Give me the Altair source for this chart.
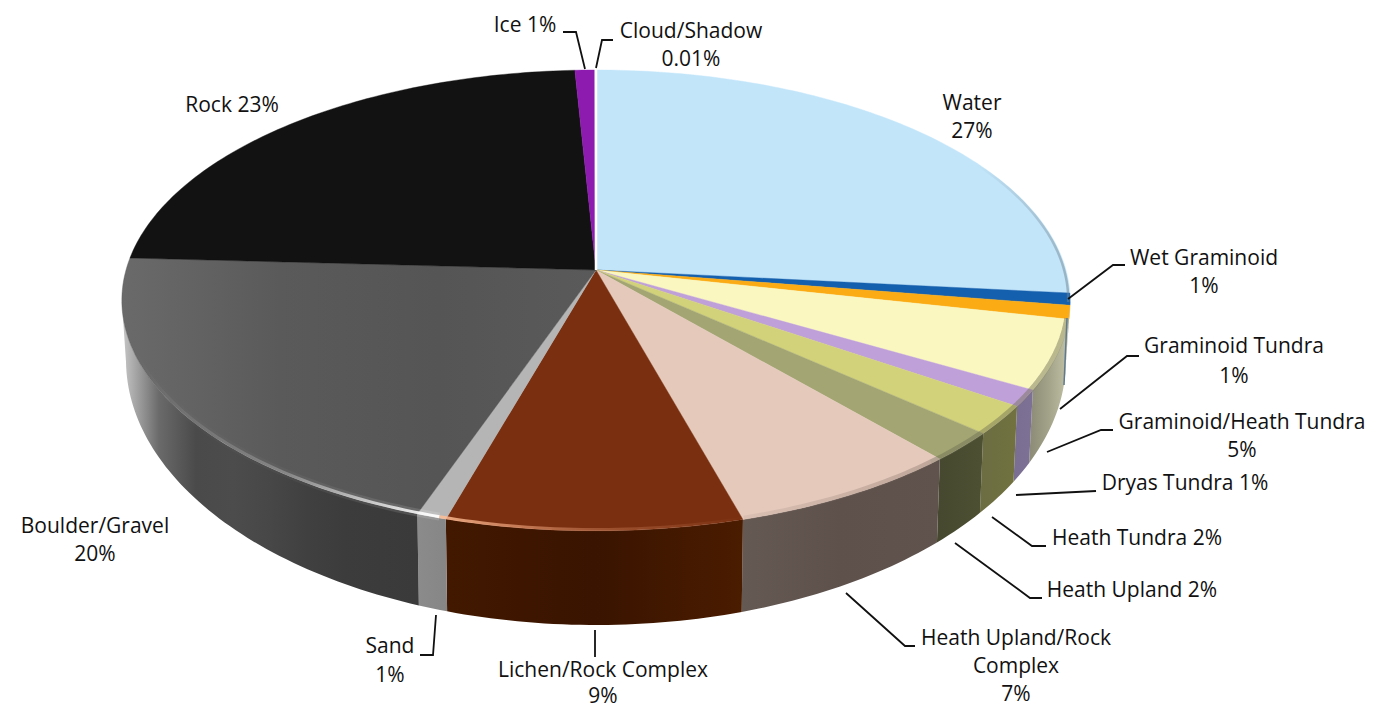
import math
import altair as alt

# ---- chart values ----
categories = ["Water", "Wet Graminoid", "Graminoid Tundra", "Graminoid/Heath Tundra",
              "Dryas Tundra", "Heath Tundra", "Heath Upland", "Heath Upland/Rock Complex",
              "Lichen/Rock Complex", "Sand", "Boulder/Gravel", "Rock", "Ice", "Cloud/Shadow"]
values = [26.6, 0.84, 0.95, 4.86, 1.17, 2.03, 2.1, 7.05, 8.9, 0.9, 20.45, 23.34, 0.8, 0.01]
top_colors = ["#c2e5fa", "#1560ae", "#fbab14", "#faf7c0", "#c0a0d8", "#d2d27a", "#a3a673",
              "#e5cabc", "#7a3010", "#b5b5b5", "#585858", "#121212", "#8e1bb0", "#ffffff"]
wall_stops = [
    ["#8fa0a8", "#8fa0a8"], ["#4a6a88", "#4a6a88"], ["#b8a878", "#b8a878"],
    ["#8b8b76", "#a3a38a", "#c2c2a6"], ["#7a6e92", "#7d7196"], ["#6c6d42", "#71723f"],
    ["#46482f", "#4d5032"], ["#655953", "#5e514c", "#60534d"],
    ["#421800", "#3a1400", "#4a1c00"], ["#8b8b8b", "#868686"],
    ["#c8c8c8", "#6a6a6a", "#4a4a4a", "#4c4c4c", "#474747", "#404040", "#3c3c3c", "#3b3b3b", "#3a3a3a"],
]
label_text = ["Ice 1%", "Cloud/Shadow", "0.01%", "Water", "27%", "Rock 23%", "Wet Graminoid", "1%",
              "Graminoid Tundra", "1%", "Graminoid/Heath Tundra", "5%", "Dryas Tundra 1%",
              "Heath Tundra 2%", "Heath Upland 2%", "Heath Upland/Rock", "Complex", "7%",
              "Lichen/Rock Complex", "9%", "Sand", "1%", "Boulder/Gravel", "20%"]
label_x = [525, 691, 691, 972, 972, 232, 1204, 1204, 1234, 1234, 1242, 1242, 1185,
           1137, 1132, 1016, 1016, 1016, 603, 603, 390, 390, 95, 95]
label_y = [26, 32, 60, 104, 132, 106, 259, 287, 347, 377, 423, 451, 484,
           539, 591, 639, 667, 695, 671, 697, 647, 676, 527, 555]
leaders = [
    [(563, 32), (576, 32), (585, 69)],
    [(613, 40), (602, 40), (596, 68)],
    [(1068, 299), (1113, 265), (1125, 265)],
    [(1060, 409), (1127, 356), (1139, 356)],
    [(1047, 452), (1101, 430), (1113, 430)],
    [(1016, 495), (1096, 491)],
    [(992, 517), (1032, 546), (1046, 546)],
    [(955, 543), (1030, 598), (1042, 598)],
    [(846, 593), (905, 646), (915, 646)],
    [(595, 630), (595, 657)],
    [(436, 615), (433, 655), (420, 655)],
]

# ---- pie geometry (perspective view of the disc) ----
CX, CY, A, B, K = 596.0, 270.0, 470.0, 226.4, 0.132
BOT_CY, BOT_RX, BOT_RY = 360.0, 470.0, 265.0
T_R, T_L = 97.6, 262.4


def rim(t, inset=1.0):
    r = math.radians(t)
    u, v = math.sin(r) * inset, -math.cos(r) * inset
    w = 1 - K * v
    return [CX + A * u / w, CY + B * v / w]


def bottom(t):
    x, _ = rim(t)
    bx = CX + (x - CX) * BOT_RX / 474.0
    s = max(0.0, 1 - ((bx - CX) / BOT_RX) ** 2)
    return [bx, BOT_CY + BOT_RY * math.sqrt(s)]


def arc(t0, t1, fn=rim):
    n = max(2, int(abs(t1 - t0)) + 2)
    return [fn(t0 + (t1 - t0) * i / (n - 1)) for i in range(n)]


def feature(kind, coords):
    return alt.Data(values=[{"type": "Feature", "properties": {},
                             "geometry": {"type": kind, "coordinates": coords}}])


PROJ = dict(type="identity", scale=1, translate=[-8, -8])


def grad(colors, horizontal=True):
    n = len(colors) - 1
    stops = [alt.GradientStop(color=c, offset=i / n) for i, c in enumerate(colors)]
    return alt.Gradient(gradient="linear", stops=stops, x1=0, y1=0,
                        x2=1 if horizontal else 0, y2=0 if horizontal else 1)


total = sum(values)
edges = [0.0]
for val in values:
    edges.append(edges[-1] + val / total * 360)

layers = []
# side wall
for i, stops in enumerate(wall_stops):
    t0, t1 = max(edges[i], T_R), min(edges[i + 1], T_L)
    if t1 <= t0:
        continue
    ring = arc(t0, t1) + arc(t1, t0, bottom)
    ring.append(ring[0])
    layers.append(alt.Chart(feature("Polygon", [ring])).mark_geoshape(
        fill=grad(stops), strokeWidth=0).project(**PROJ))

# top faces
for i, colour in enumerate(top_colors):
    ring = [[CX, CY]] + arc(edges[i], edges[i + 1]) + [[CX, CY]]
    kw = dict(fill=colour, stroke=colour, strokeWidth=0.4)
    if categories[i] == "Boulder/Gravel":
        kw["fill"] = grad(["#6a6a6a", "#5a5a5a", "#555555", "#5a5a5a"])
    if categories[i] == "Cloud/Shadow":
        kw = dict(fill="#ffffff", stroke="#ffffff", strokeWidth=2.5)
    layers.append(alt.Chart(feature("Polygon", [ring])).mark_geoshape(**kw).project(**PROJ))


def inner(t):
    return rim(t, 0.996)


# soft bevel along the rim
for t0, t1, width, stops in [
    (60, 98, 2.5, ["rgba(110,130,140,0)", "rgba(110,130,140,0.5)"]),
    (102, 140, 5, ["rgba(90,90,70,0.35)", "rgba(120,120,90,0.5)"]),
    (140, 164, 5, ["rgba(120,100,90,0.1)", "rgba(120,100,90,0.35)"]),
    (197, 250, 8, ["rgba(255,255,255,0)", "rgba(255,255,255,0.03)", "rgba(255,255,255,0.14)"]),
    (197, 250, 3, ["rgba(255,255,255,0)", "rgba(255,255,255,0.25)", "rgba(255,255,255,0.95)"]),
    (164, 197, 3, ["rgba(255,190,150,0.85)", "rgba(255,170,130,0.3)", "rgba(255,170,130,0)"]),
]:
    layers.append(alt.Chart(feature("LineString", arc(t0, t1, inner))).mark_geoshape(
        filled=False, strokeWidth=width, stroke=grad(stops)).project(**PROJ))

# thin wet-graminoid edge on the wall
layers.append(alt.Chart(feature("LineString", [[1067, 318], [1064, 385]])).mark_geoshape(
    filled=False, strokeWidth=1.5, stroke="#5f7a90").project(**PROJ))

x_scale = alt.Scale(domain=[8, 1367], range=[0, 1359], zero=False, nice=False)
y_scale = alt.Scale(domain=[8, 709], range=[0, 701], zero=False, nice=False)

line_rows = [{"id": k, "o": j, "x": p[0], "y": p[1]}
             for k, pts in enumerate(leaders) for j, p in enumerate(pts)]
layers.append(alt.Chart(alt.Data(values=line_rows)).mark_line(color="#111111", strokeWidth=1.8).encode(
    x=alt.X("x:Q", scale=x_scale, axis=None),
    y=alt.Y("y:Q", scale=y_scale, axis=None),
    detail="id:N", order="o:Q"))

text_rows = [{"t": t, "x": x, "y": y} for t, x, y in zip(label_text, label_x, label_y)]
layers.append(alt.Chart(alt.Data(values=text_rows)).mark_text(
    font="Open Sans", fontSize=21, color="#111111", align="center", baseline="middle").encode(
    x=alt.X("x:Q", scale=x_scale, axis=None),
    y=alt.Y("y:Q", scale=y_scale, axis=None),
    text="t:N"))

chart = alt.layer(*layers).properties(
    width=1359, height=701, padding=0,
    autosize=alt.AutoSizeParams(type="none")).configure_view(stroke=None)

chart.save("out.html", embed_options={"renderer": "svg", "actions": False})
